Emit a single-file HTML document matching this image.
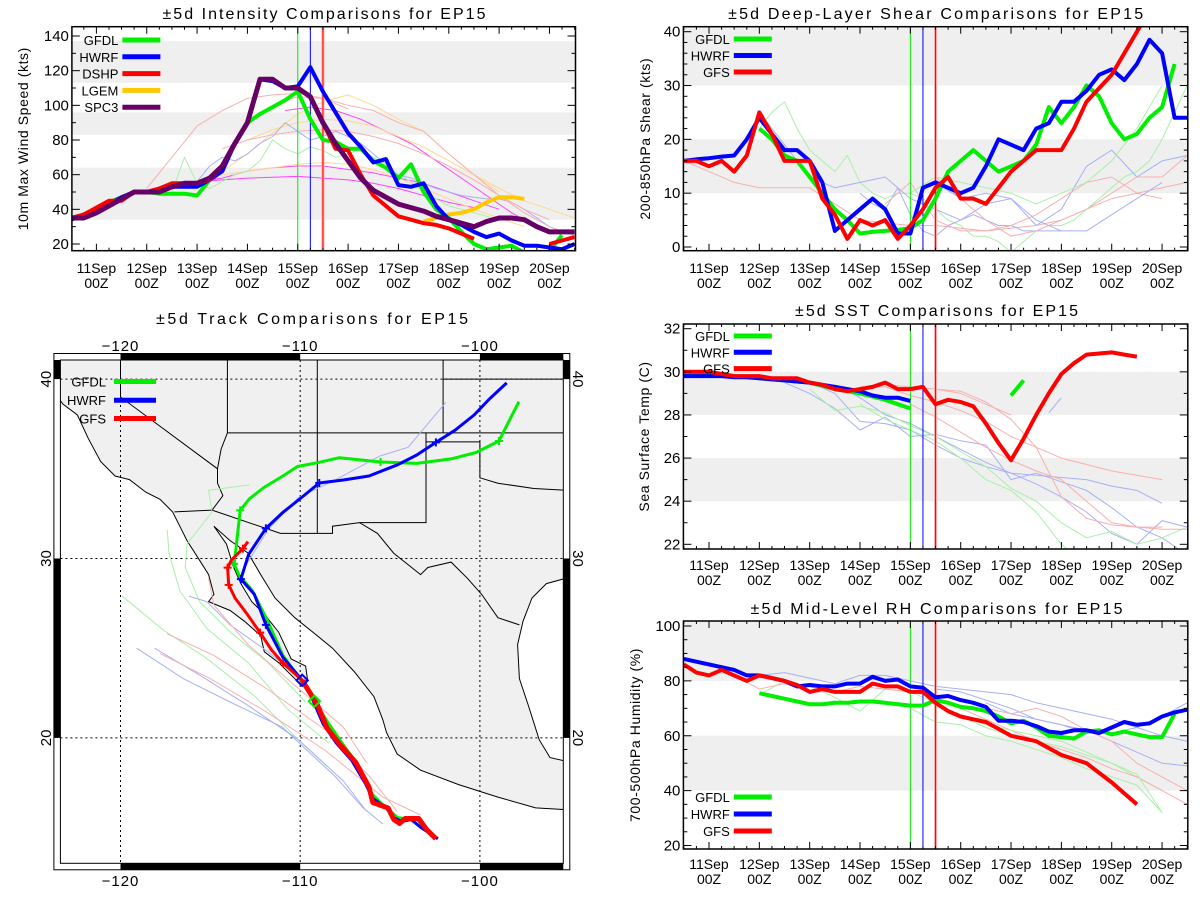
<!DOCTYPE html>
<html><head><meta charset="utf-8"><style>
html,body{margin:0;padding:0;background:#fff;}
svg{display:block;font-family:"Liberation Sans",sans-serif;}
</style></head><body>
<svg id="root" width="1200" height="900" viewBox="0 0 1200 900" xmlns="http://www.w3.org/2000/svg"></svg>
<script>
// ---------- DATA: intensity (kts), 6-hourly from day -0.5 (10Sep 12Z) ----------
const intSPC3=[35,35,38,42,46,50,50,50,53,55,55,58,65,78,90,115,115,110,110,105,90,78,68,58,51,47,43,41,39,36,34,32,30,33,35,35,34,30,27,27,27];
const intHWRF=[34,37,40,43,47,50,50,52,53,53,53,57,62,78,90,115,114,110,111,122,108,96,84,76,67,69,54,53,55,42,34,31,27,24,26,22,19,19,18,17,20];
const intGFDL=[35,37,40,44,47,50,50,49,49,49,48,57,65,78,90,95,99,103,108,92,80,79,75,75,68,64,58,66,50,40,35,27,20,17,18,19,15];
const intGFDL2=[16,25];
const intDSHP=[35,37,41,45,45,50,50,52,55,55,55,57,65,78,90,115,115,110,110,105,90,75,74,60,48,42,36,34,32,31,29,26,23];
const intDSHP2=[20,22,24];
const intLGEM=[33,35,37,38,40,44,47,47,46];
const intFaint=[
 {c:'#f8b0b0',st:1.0,s:0.5,v:[52,70,88,97,104,106,107,104,98]},
 {c:'#ff44ff',st:2.0,s:0.5,v:[56,57,58,58.5,59,58,57,55,52,48,44,41]},
 {c:'#ff44ff',st:2.0,s:0.5,v:[56,58,62,64,65,65,63,61,58,55,50,45,40]},
 {c:'#ff44ff',st:3.75,s:0.5,v:[97,99,97,92,85,78,68,58,48,38,30]},
 {c:'#ffd890',st:2.0,s:0.5,v:[55,62,72,84,95,102,106,100,92,85,72,60,50]},
 {c:'#ffd890',st:3.0,s:0.5,v:[80,86,90,92,91,88,82,76,68,60,52,45,40,35]},
 {c:'#ffd890',st:2.5,s:0.5,v:[60,62,64,66,67,66,63,58,52,46,40,35,30]},
 {c:'#a8b0f4',st:2.0,s:0.25,v:[56,65,70,68,72,78,82,90,85,80,82,85,82,78,72,66,60,58,55,52,50,48,47,46,46,44,40,35,30,27,25]},
 {c:'#a8f0a8',st:1.5,s:0.25,v:[50,70,55,52,56,60,62,68,80,75,72,76,74,70,72,75,70,66,60,56,50,46,42,40,38,36,34]},
 {c:'#f8b0b0',st:2.5,s:0.5,v:[75,80,83,85,86,85,82,78,72,65,57,48,40,34]},
 {c:'#f8b0b0',st:3.5,s:0.5,v:[100,105,104,100,97,90,85,72,60,48,38,30,25]}
];
// ---------- DATA: shear (kts) ----------
const shrHWRF=[16,16.3,16.5,16.8,17,20,24,21,18,18,16,12,3,5,7,9,7,2.5,2.5,11,12,11,10,11,15,20,19,18,22,23,27,27,29,32,33,31,34,38.5,36,24,24];
const shrGFS=[16,16,15,16,14,17,25,21,16,16,16,9,6,1.5,5,4,5,1.5,4,7,11,13,9,9,8,11,14,16,18,18,18,22,27,29.5,32,36,40,44];
const shrGFDL=[22,20,17,16,13,10,7,5,2.5,2.8,3,3.2,3.5,5,9,14,16,18,16,14,15,16,19,26,23,26,30,28,23,20,21,24,26,34];
const shrFaint=[
 {c:'#a8f0a8',st:1.0,s:0.25,v:[22,25,27,22,18,16,14,17,12,10,9,10,10,9,7,5,4,2,2,1,-1,1,3,4,4,5,7,9,11,13,14,16,20,25,30,40]},
 {c:'#f8b0b0',st:-0.5,s:0.5,v:[16,14,12,11,11,11,8,5,4.5,4,4,3.5,3,3.5,4,5,7,9,10,11,12,14,18,21,25,28,30,31.5]},
 {c:'#a8b0f4',st:1.0,s:0.5,v:[25,19,13,11,12,13,9,7,5,8,9,4,7,15,18,13,16,17,18,24,22,20,21,27,36]},
 {c:'#a8b0f4',st:3.0,s:0.25,v:[10,8,7,11,6,3,2,4,5,6,5,4,4,3,3,3,3]},
 {c:'#f8b0b0',st:3.5,s:0.5,v:[8,12,5,3,3,4,6,9,12,13,10,9]},
 {c:'#a8f0a8',st:4.0,s:0.5,v:[10,13,12,11,10,8,10,12,16,22,30]},
 {c:'#f8b0b0',st:4.5,s:0.5,v:[13,9,5,2,3,5,7,10,13,13,17,21,26,28,31]},
 {c:'#a8b0f4',st:4.5,s:0.5,v:[12,9,10,9,5,3,3,6,9,12]}
];
// ---------- DATA: SST (C) ----------
const sstGFS=[30,30,30,29.9,29.8,29.8,29.8,29.7,29.7,29.7,29.5,29.4,29.2,29.1,29.2,29.3,29.5,29.2,29.2,29.3,28.5,28.7,28.6,28.4,27.6,26.7,25.9,26.9,28.0,29.0,29.9,30.4,30.8,30.85,30.9,30.8,30.7];
const sstHWRF=[29.8,29.8,29.8,29.8,29.75,29.75,29.7,29.65,29.6,29.55,29.5,29.4,29.3,29.2,29.1,28.9,28.8,28.8,28.65];
const sstGFDL=[29.9,29.9,29.85,29.8,29.8,29.75,29.7,29.65,29.6,29.55,29.5,29.35,29.2,29.1,29.0,28.85,28.7,28.5,28.3];
const sstGFDL2=[28.9,29.6];
const sstFaint=[
 {c:'#a8b0f4',st:1.5,s:0.5,v:[29.5,29.0,28.3,27.3,27.9,27.0,27.1,26.8,26.6,25.0,25.3,24.9,24.5,23.7,22.8,22.3,21.5]},
 {c:'#a8b0f4',st:2.0,s:0.5,v:[29.5,29.0,27.7,27.6,27.3,26.6,26.0,25.6,25.3,25.2,25.1,25.0,24.7,24.5,23.9]},
 {c:'#a8b0f4',st:2.5,s:0.5,v:[29.4,28.8,28.0,27.6,27.0,26.4,25.8,25.3,24.8,24.2,23.5,22.5,22.0,23.1,22.8,22.7,22.8,23.3,22.9]},
 {c:'#a8f0a8',st:2.0,s:0.5,v:[29.2,28.2,28.4,28.1,27.5,27.0,26.3,25.6,24.6,24.0,23.0,22.3,22.6,22.0,22.3,22.8,23.3]},
 {c:'#a8f0a8',st:3.0,s:0.5,v:[28.5,27.8,27.3,26.8,26.0,25.0,24.5,23.5,22.0,21.0]},
 {c:'#f8b0b0',st:3.5,s:0.5,v:[29.4,29.3,29.2,29.0,28.5,28.0]},
 {c:'#f8b0b0',st:3.0,s:0.5,v:[29.3,29.3,28.9,28.6,28.2,27.7,27.0,26.5,26.0,25.7,25.4,25.2,25.0]},
 {c:'#f8b0b0',st:4.0,s:0.5,v:[28.5,27.9,27.2,26.5,25.9,25.4,25.0,24.0,23.0,22.8,22.7,22.7,22.8,23.0,23.3]},
 {c:'#f8b0b0',st:4.5,s:0.5,v:[29.2,29.1,28.6,27.8,26.5,24.2,23.2,22.9,22.8,22.8]},
 {c:'#a8b0f4',st:6.75,s:0.25,v:[28.1,28.8]}
];
// ---------- DATA: mid-level RH (%) ----------
const rhHWRF=[88,87,86,85,84,82,82,81,80,78,78.5,78,78,79,79,81.5,80,80.5,78,77.5,74,74.5,73,72,70.5,65.5,65.5,65,63.5,61.5,61,62,62,61,63,65,64,64.5,67,68.5,69.5];
const rhGFS=[86,83,82,84,82,80,82,81,80,78.5,76,77,76,76,76,79,78,78,76,76,72,69,67,66,65,62.5,60,59,58,55.5,53,51.5,50,46.5,43,39,35];
const rhGFDL=[75.5,74.5,73.5,72.5,71.5,71.5,72,72,72.5,72.5,72,71.5,71,71,73,72,70.5,70,69,67,64.5,65.5,63,60,59.5,59,61.5,62,60.5,61.5,60.5,59.5,59.5,68];
const rhFaint=[
 {c:'#a8b0f4',st:1.0,s:0.5,v:[82,83,81,79,82,82,80,78,77,76,75,72,70,68,66,63,60,58,56,55]},
 {c:'#a8b0f4',st:4.5,s:0.5,v:[77,76,73,70,66,64,62,58,54,50,49]},
 {c:'#a8b0f4',st:5.5,s:0.5,v:[72,68,66,64,61,61,63,67,72,77]},
 {c:'#a8f0a8',st:1.0,s:0.5,v:[75,80,78,74,69,77,76,72,67,63,60,58,56,53,50,45,40]},
 {c:'#a8f0a8',st:4.0,s:0.5,v:[70,65,64,60,58,55,52,48,45,42,32]},
 {c:'#f8b0b0',st:0.5,s:0.5,v:[82,77,79,76,76,78,77,76,74,70,66,62,58,55,52,48,45,40,35,30,27]},
 {c:'#f8b0b0',st:4.5,s:0.5,v:[75,73,70,68,70,67,62,58,50,45,40,33]},
 {c:'#a8f0a8',st:4.5,s:0.5,v:[72,67,64,62,60,58,54,50,46,32]}
];
const dayLabels=['11Sep','12Sep','13Sep','14Sep','15Sep','16Sep','17Sep','18Sep','19Sep','20Sep'];
// ---------- DATA: tracks (lon, lat) ----------
const trkGFS=[[-102.45,14.38],[-102.98,14.91],[-103.40,15.51],[-104.15,15.51],[-104.47,15.23],[-104.79,15.45],[-105.11,16.09],[-105.96,16.40],[-106.17,17.26],[-106.91,18.64],[-107.77,19.60],[-108.51,20.55],[-109.04,21.83],[-109.89,23.21],[-110.96,24.17],[-111.60,24.91],[-112.23,25.87],[-112.98,26.94],[-113.62,27.79],[-113.98,28.53],[-114.04,29.49],[-113.83,29.91],[-113.19,30.55],[-112.91,30.94]];
const trkHWRF=[[-102.34,14.38],[-103.30,15.02],[-103.83,15.45],[-104.36,15.34],[-104.79,15.55],[-105.21,16.09],[-105.96,16.62],[-106.38,17.47],[-107.13,18.74],[-107.98,19.70],[-108.72,20.77],[-109.36,22.26],[-109.89,23.21],[-110.96,24.49],[-111.91,26.30],[-112.55,28.00],[-113.30,28.85],[-112.87,30.23],[-111.91,31.68],[-110.96,32.57],[-109.89,33.43],[-108.94,34.21],[-107.55,34.38],[-106.17,34.60],[-104.57,35.23],[-103.51,35.77],[-102.45,36.47],[-101.38,37.15],[-100.32,38.00],[-99.47,38.89],[-98.51,39.79]];
const trkGFDL=[[-102.45,14.43],[-103.51,15.45],[-104.57,15.55],[-105.43,16.30],[-106.17,17.04],[-106.81,18.53],[-107.66,19.70],[-108.40,20.77],[-109.21,22.04],[-109.89,23.11],[-110.96,24.60],[-111.81,26.51],[-112.66,28.21],[-113.40,29.06],[-113.68,29.70],[-113.55,30.77],[-113.34,32.68],[-112.83,33.32],[-112.02,33.96],[-110.96,34.60],[-110.15,35.13],[-109.04,35.34],[-107.81,35.62],[-105.53,35.38],[-103.51,35.30],[-101.60,35.55],[-100.21,35.91],[-98.94,36.55],[-97.83,38.74]];
const trkFaint=[
 {c:'#a8f0a8',p:[[-119.9,27.9],[-117.6,26],[-115.3,24.5],[-112.5,22.3],[-110,19.8],[-108.5,18.4]]},
 {c:'#a8f0a8',p:[[-117.4,31.6],[-117.3,30.3],[-116.7,28.2],[-115.2,26.1],[-112.9,24.2],[-110.7,21.6],[-108.4,19.7]]},
 {c:'#a8f0a8',p:[[-112.8,34.1],[-115.1,33.8],[-114.9,32.6],[-116.3,30.8],[-116.4,29.5],[-115.6,27.6],[-113.9,25.9],[-111.8,24.2],[-109.7,22.0]]},
 {c:'#a8b0f4',p:[[-119.1,25.0],[-116.5,23.3],[-113.9,22.0],[-111,20.6],[-108,17.8],[-106.5,16.1],[-105.4,15.2]]},
 {c:'#a8b0f4',p:[[-118.1,25.0],[-115.6,23.5],[-112.9,21.8],[-110.1,19.9],[-107.6,17.6],[-106.3,15.9]]},
 {c:'#a8b0f4',p:[[-116.2,27.9],[-115.2,27.6],[-113.9,26.3],[-111.8,24.8],[-109.7,23.1]]},
 {c:'#a8b0f4',p:[[-101.9,38.7],[-104,36.2],[-105.6,35.7],[-108,34.4],[-110.1,33.4],[-111.8,31.6],[-113.1,29.5]]},
 {c:'#f8b0b0',p:[[-117.8,24.7],[-115,23.3],[-111.8,21.4],[-108.6,19.3],[-105.4,16.7],[-103.3,15.7]]},
 {c:'#f8b0b0',p:[[-117.4,25.8],[-114.8,24.6],[-111.8,22.7],[-108.4,20.3],[-106.1,17.8],[-104.6,15.9]]},
 {c:'#f8b0b0',p:[[-115.1,28.9],[-114.8,27.4],[-112.9,25.2],[-110.5,23.1],[-107.6,20.6],[-106.3,18.6]]}
];
const land=[[-123.5,41.3],[-123.5,39],[-123.2,38.6],[-122.4,38.0],[-121.8,36.7],[-121.1,35.4],[-120.3,34.6],[-119.5,34.4],[-118.6,33.7],[-117.8,33.3],[-117.1,32.6],[-116.7,31.8],[-116.3,31.0],[-115.6,29.9],[-115.1,29.1],[-114.8,28.0],[-115.1,27.6],[-113.9,27.1],[-113.1,26.5],[-112.2,25.7],[-112.0,24.8],[-111.2,24.2],[-110.3,23.3],[-109.9,22.9],[-109.6,23.3],[-109.7,24.0],[-110.5,24.4],[-111.2,25.9],[-112.0,26.9],[-112.7,27.6],[-113.3,28.6],[-113.7,29.5],[-114.1,30.8],[-114.8,31.8],[-113.9,31.0],[-112.9,30.3],[-112.2,29.1],[-111.4,27.8],[-110.3,26.7],[-109.3,25.9],[-108.2,25.0],[-107.0,23.7],[-105.9,22.3],[-105.4,21.0],[-105.2,20.3],[-104.6,19.1],[-103.3,18.2],[-101.2,17.4],[-99.0,16.7],[-96.9,16.1],[-95.2,16.0],[-95.2,18.7],[-96.1,18.9],[-96.7,19.9],[-97.3,21.8],[-97.8,23.3],[-97.9,25.2],[-97.6,26.5],[-97.1,27.8],[-96.3,28.6],[-95.2,28.9],[-95.2,41.3]];
const borders=[
 [[-117.0,32.6],[-114.9,32.7],[-111.1,31.4],[-108.2,31.4],[-108.2,31.8],[-106.7,32.0],[-105.7,31.4],[-104.8,30.3],[-103.3,29.1],[-102.9,29.5],[-101.6,29.8],[-100.7,28.9],[-99.9,28.0],[-99.0,26.7],[-97.8,26.3]],
 [[-120,41.3],[-120,39],[-114.6,35],[-114.6,34.2],[-114.3,33.5],[-114.9,32.7]],
 [[-114.05,41.3],[-114.05,37],[-114.4,36.1],[-114.6,35]],
 [[-114.05,37],[-95.2,37]],[[-109.05,41.3],[-109.05,31.4]],[[-102.05,41.3],[-102.05,37]],[[-102.05,40],[-95.2,40]],
 [[-103,37],[-103,32],[-106.7,32]],
 [[-103,36.5],[-100,36.5],[-100,34.5],[-99,34.2],[-97,33.9],[-95.2,33.8]]
];

const NS='http://www.w3.org/2000/svg';
const root=document.getElementById('root');
function mk(tag,attrs,parent){const e=document.createElementNS(NS,tag);for(const k in attrs)e.setAttribute(k,attrs[k]);(parent||root).appendChild(e);return e;}
function txt(str,attrs,parent){const e=mk('text',attrs,parent);e.textContent=str;return e;}
function pts(arr){return arr.map(p=>p[0].toFixed(1)+','+p[1].toFixed(1)).join(' ');}

function panel(cfg){
  const g=mk('g',{});
  
  
  const {L,R,T,B}=cfg;
  const Y=v=>cfg.y1+(v-cfg.v1)*(cfg.y2-cfg.y1)/(cfg.v2-cfg.v1);
  const X=d=>cfg.x0+d*50.34;
  const cid='clip-'+cfg.name;
  const cp=mk('clipPath',{id:cid},g);mk('rect',{x:L,y:T,width:R-L,height:B-T},cp);
  const bands=mk('g',{'clip-path':'url(#'+cid+')'},g);
  cfg.bands.forEach(b=>{const r=mk('rect',{x:L,y:Y(b[1]),width:R-L,height:Y(b[0])-Y(b[1]),fill:'#efefef'},bands);
    });
  const t=txt(cfg.title,{x:cfg.tx,y:cfg.ty,'text-anchor':'middle','font-size':16,textLength:cfg.tl,lengthAdjust:'spacing',fill:'#000'},g);
  
  const yt=txt(cfg.ytitle,{x:0,y:0,transform:`translate(${cfg.ytx},${(T+B)/2}) rotate(-90)`,'text-anchor':'middle','font-size':14,'letter-spacing':'0.6',fill:'#000'},g);
  
  const lines=mk('g',{'clip-path':'url(#'+cid+')',fill:'none','stroke-linejoin':'round'},g);
  function series(vals,st,s,col,w,name){
    const p=[];vals.forEach((v,i)=>p.push([X(st+i*s),Y(v)]));
    const pl=mk('polyline',{points:pts(p),stroke:col,'stroke-width':w},lines);
    
  }
  cfg.faint.forEach(f=>series(f.v,f.st,f.s,f.c,1,'ensemble-member-line'));
  const vl=[[4.0,'#00ee00'],[4.25,'#0000ff'],[4.5,'#ff0000']];
  vl.forEach(v=>{ if(v[0]===4.5) mk('line',{x1:X(v[0]),x2:X(v[0]),y1:T,y2:B,stroke:'#ffaaaa','stroke-width':3},lines);
    const l=mk('line',{x1:X(v[0]),x2:X(v[0]),y1:T,y2:B,stroke:v[1],'stroke-width':1},lines);
    });
  cfg.main.forEach(m=>series(m.v,m.st,0.25,m.c,m.w||4,m.name));
  mk('rect',{x:L,y:T,width:R-L,height:B-T,fill:'none',stroke:'#000','stroke-width':1.5},g);
  const tk=mk('g',{stroke:'#000','stroke-width':1},g);
  for(let q=-2;q<=38;q++){const d=q/4;const x=X(d);if(x<L||x>R)continue;const len=q%4===0?7:3;
    mk('line',{x1:x,x2:x,y1:B,y2:B-len},tk);mk('line',{x1:x,x2:x,y1:T,y2:T+len},tk);}
  cfg.ticks.forEach((v,i)=>{const y=Y(v);mk('line',{x1:L,x2:L+8,y1:y,y2:y},tk);mk('line',{x1:R,x2:R-8,y1:y,y2:y},tk);
    const lab=txt(String(v),{x:L-3,y:y+5,'text-anchor':'end','font-size':15,fill:'#000'},g);
    
    if(i<cfg.ticks.length-1){const step=cfg.ticks[1]-cfg.ticks[0];for(let k=1;k<cfg.minor;k++){const ym=Y(v+step*k/cfg.minor);
      mk('line',{x1:L,x2:L+4,y1:ym,y2:ym},tk);mk('line',{x1:R,x2:R-4,y1:ym,y2:ym},tk);}}});
  dayLabels.forEach((d,i)=>{const x=X(i);
    const a=txt(d,{x:x,y:cfg.dy,'text-anchor':'middle','font-size':14,fill:'#000'},g);
    const b=txt('00Z',{x:x,y:cfg.dy+15,'text-anchor':'middle','font-size':14,fill:'#000'},g);});
  cfg.legend.forEach((e,i)=>{const y=cfg.ly+i*cfg.lstep;
    const lg=mk('g',{},g);
    txt(e[0],{x:cfg.lx2-4,y:y+5,'text-anchor':'end','font-size':13,fill:'#000'},lg);
    mk('line',{x1:cfg.lx2,x2:cfg.lx2+38,y1:y,y2:y,stroke:e[1],'stroke-width':5},lg);});
}

panel({name:'intensity-panel',L:71.9,R:575.5,T:26.7,B:250.7,x0:96.4,v1:20,y1:244,v2:140,y2:36,
 bands:[[34,64],[83,96],[113,137]],ticks:[20,40,60,80,100,120,140],minor:2,
 title:'±5d Intensity Comparisons for EP15',tx:324,ty:19,tl:323,ytitle:'10m Max Wind Speed (kts)',ytx:28,dy:273,
 faint:intFaint,
 main:[{v:intLGEM,st:6.5,c:'#ffc800',name:'lgem-line'},{v:intGFDL,st:-0.5,c:'#00ee00',name:'gfdl-line'},{v:intGFDL2,st:9.0,c:'#00ee00',name:'gfdl-line-2'},
  {v:intHWRF,st:-0.5,c:'#0000ff',name:'hwrf-line'},{v:intDSHP,st:-0.5,c:'#ff0000',name:'dshp-line'},{v:intDSHP2,st:9.0,c:'#ff0000',name:'dshp-line-2'},
  {v:intSPC3,st:-0.5,c:'#660066',w:5,name:'spc3-line'}],
 legend:[['GFDL','#00ee00'],['HWRF','#0000ff'],['DSHP','#ff0000'],['LGEM','#ffc800'],['SPC3','#660066']],lx2:122.4,ly:40,lstep:16.8});

panel({name:'shear-panel',L:683.4,R:1187.8,T:26.7,B:250.7,x0:709,v1:0,y1:247,v2:40,y2:31.7,
 bands:[[10,20],[30,45]],ticks:[0,10,20,30,40],minor:5,
 title:'±5d Deep-Layer Shear Comparisons for EP15',tx:935.6,ty:19,tl:415,ytitle:'200-850hPa Shear (kts)',ytx:650,dy:273,
 faint:shrFaint,
 main:[{v:shrGFDL,st:1.0,c:'#00ee00',name:'gfdl-line'},{v:shrHWRF,st:-0.5,c:'#0000ff',name:'hwrf-line'},{v:shrGFS,st:-0.5,c:'#ff0000',name:'gfs-line'}],
 legend:[['GFDL','#00ee00'],['HWRF','#0000ff'],['GFS','#ff0000']],lx2:733.8,ly:39,lstep:16.5});

panel({name:'sst-panel',L:683.4,R:1187.8,T:324,B:549,x0:709,v1:22,y1:544.3,v2:32,y2:328.7,
 bands:[[28,30],[24,26]],ticks:[22,24,26,28,30,32],minor:2,
 title:'±5d SST Comparisons for EP15',tx:936.5,ty:316,tl:283,ytitle:'Sea Surface Temp (C)',ytx:649,dy:570,
 faint:sstFaint,
 main:[{v:sstGFDL,st:-0.5,c:'#00ee00',name:'gfdl-line'},{v:sstGFDL2,st:6.0,c:'#00ee00',name:'gfdl-line-2'},{v:sstHWRF,st:-0.5,c:'#0000ff',name:'hwrf-line'},{v:sstGFS,st:-0.5,c:'#ff0000',name:'gfs-line'}],
 legend:[['GFDL','#00ee00'],['HWRF','#0000ff'],['GFS','#ff0000']],lx2:733.8,ly:336,lstep:16.3});

panel({name:'rh-panel',L:683.4,R:1187.8,T:621,B:849,x0:709,v1:20,y1:845.5,v2:100,y2:626,
 bands:[[80,105],[40,60]],ticks:[20,40,60,80,100],minor:4,
 title:'±5d Mid-Level RH Comparisons for EP15',tx:936.5,ty:614,tl:372,ytitle:'700-500hPa Humidity (%)',ytx:640,dy:869,
 faint:rhFaint,
 main:[{v:rhGFDL,st:1.0,c:'#00ee00',name:'gfdl-line'},{v:rhHWRF,st:-0.5,c:'#0000ff',name:'hwrf-line'},{v:rhGFS,st:-0.5,c:'#ff0000',name:'gfs-line'}],
 legend:[['GFDL','#00ee00'],['HWRF','#0000ff'],['GFS','#ff0000']],lx2:733.8,ly:797,lstep:17});

// ---------- MAP ----------
(function(){
  const g=mk('g',{});
  const MX=lon=>300.2+(lon+110)*17.97, MY=lat=>558.5-(lat-30)*17.94;
  const P=a=>a.map(p=>[MX(p[0]),MY(p[1])]);
  const L=60.4,R=563.3,T=360,B=863.3, OL=53.9,OR=569.8,OT=353.5,OB=869.8;
  const cp=mk('clipPath',{id:'clip-map'},g);mk('rect',{x:L,y:T,width:R-L,height:B-T},cp);
  const inner=mk('g',{'clip-path':'url(#clip-map)'},g);
  const ld=mk('polygon',{points:pts(P(land)),fill:'#f0f0f0',stroke:'#000','stroke-width':1},inner);
  
  borders.forEach(b=>{const e=mk('polyline',{points:pts(P(b)),fill:'none',stroke:'#000','stroke-width':1},inner);
    });
  [-120,-110,-100].forEach(lon=>mk('line',{x1:MX(lon),x2:MX(lon),y1:T,y2:B,stroke:'#000','stroke-dasharray':'2,3','stroke-width':1},inner));
  [20,30,40].forEach(lat=>mk('line',{x1:L,x2:R,y1:MY(lat),y2:MY(lat),stroke:'#000','stroke-dasharray':'2,3','stroke-width':1},inner));
  trkFaint.forEach(f=>{const e=mk('polyline',{points:pts(P(f.p)),fill:'none',stroke:f.c,'stroke-width':1},inner);
    });
  function track(a,col,w,name,marks){const e=mk('polyline',{points:pts(P(a)),fill:'none',stroke:col,'stroke-width':w,'stroke-linejoin':'round'},inner);
    
    marks.forEach(i=>{const x=MX(a[i][0]),y=MY(a[i][1]);mk('path',{d:`M${x-4},${y}H${x+4}M${x},${y-4}V${y+4}`,stroke:col,'stroke-width':2},inner);});}
  track(trkGFDL,'#00ee00',3,'gfdl-track',[14,16,23,27]);
  track(trkHWRF,'#0000ff',3,'hwrf-track',[14,16,18,21,26]);
  track(trkGFS,'#ff0000',3,'gfs-track',[14,16,19,20,22]);
  mk('polyline',{points:pts(P(trkGFS.slice(0,14))),fill:'none',stroke:'#ff0000','stroke-width':5,'stroke-linejoin':'round'},inner);
  mk('rect',{x:MX(-109.89)-4,y:MY(23.21)-4,width:8,height:8,fill:'none',stroke:'#0000ff','stroke-width':2,transform:`rotate(45 ${MX(-109.89)} ${MY(23.21)})`},inner);
  mk('rect',{x:MX(-109.21)-4,y:MY(22.04)-4,width:8,height:8,fill:'none',stroke:'#00ee00','stroke-width':2,transform:`rotate(45 ${MX(-109.21)} ${MY(22.04)})`},inner);
  mk('rect',{x:OL,y:OT,width:OR-OL,height:OB-OT,fill:'none',stroke:'#000','stroke-width':1},g);
  mk('rect',{x:L,y:T,width:R-L,height:B-T,fill:'none',stroke:'#000','stroke-width':1},g);
  const bars=[[MX(-120),MX(-110)],[MX(-100),R]];
  bars.forEach(b=>{mk('rect',{x:b[0],y:OT,width:b[1]-b[0],height:T-OT,fill:'#000'},g);mk('rect',{x:b[0],y:B,width:b[1]-b[0],height:OB-B,fill:'#000'},g);});
  const vb=[[T,MY(40)],[MY(30),MY(20)]];
  vb.forEach(b=>{mk('rect',{x:OL,y:b[0],width:L-OL,height:b[1]-b[0],fill:'#000'},g);mk('rect',{x:R,y:b[0],width:OR-R,height:b[1]-b[0],fill:'#000'},g);});
  const t=txt('±5d Track Comparisons for EP15',{x:312,y:324,'text-anchor':'middle','font-size':16,textLength:312,lengthAdjust:'spacing'},g);
  
  [-120,-110,-100].forEach(lon=>{
    const a=txt('−'+Math.abs(lon),{x:MX(lon),y:351,'text-anchor':'middle','font-size':15,'letter-spacing':'1'},g);
    const b=txt('−'+Math.abs(lon),{x:MX(lon),y:886,'text-anchor':'middle','font-size':15,'letter-spacing':'1'},g);});
  [20,30,40].forEach(lat=>{
    const a=txt(String(lat),{x:0,y:0,transform:`translate(51,${MY(lat)}) rotate(-90)`,'text-anchor':'middle','font-size':15},g);
    const b=txt(String(lat),{x:0,y:0,transform:`translate(573,${MY(lat)}) rotate(90)`,'text-anchor':'middle','font-size':15},g);});
  [['GFDL','#00ee00'],['HWRF','#0000ff'],['GFS','#ff0000']].forEach((e,i)=>{const y=[381.5,400.2,418.5][i];
    const lg=mk('g',{},g);
    txt(e[0],{x:106,y:y+5,'text-anchor':'end','font-size':13},lg);
    mk('line',{x1:114,x2:156,y1:y,y2:y,stroke:e[1],'stroke-width':5},lg);});
})();
</script>
</body></html>
